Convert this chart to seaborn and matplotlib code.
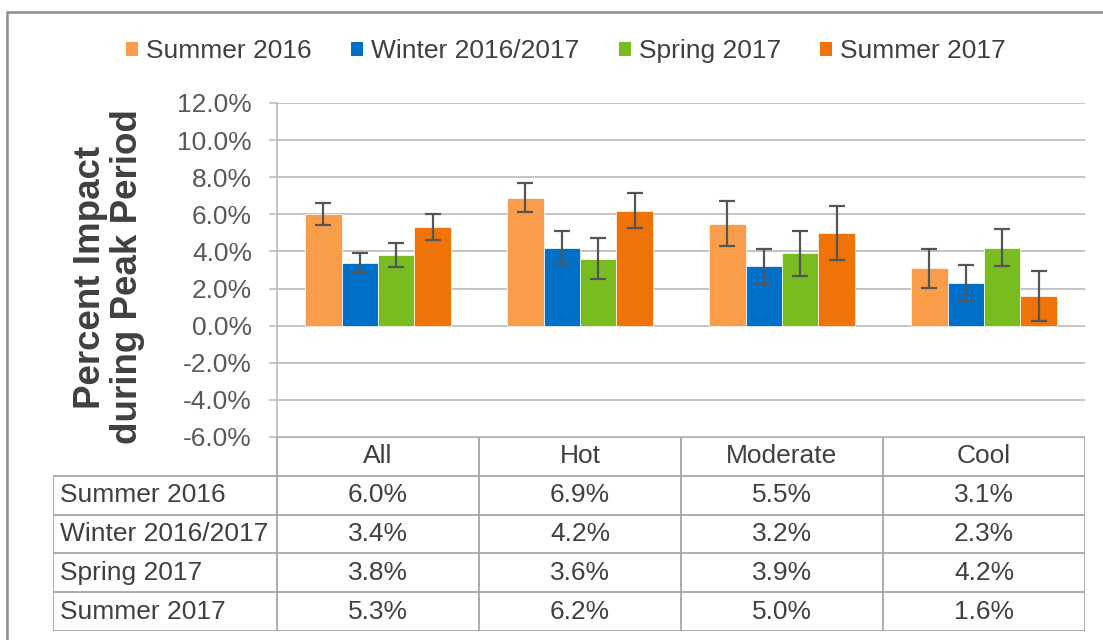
import numpy as np
import pandas as pd
import matplotlib
matplotlib.use("Agg")
import matplotlib.pyplot as plt
import matplotlib.ticker as mticker
from matplotlib.patches import Patch, Rectangle
import seaborn as sns

# ─── data ─────────────────────────────────────────────────────────────────────
CATEGORIES = ["All", "Hot", "Moderate", "Cool"]
SEASONS = ["Summer 2016", "Winter 2016/2017", "Spring 2017", "Summer 2017"]

summer_2016 = [6.0, 6.9, 5.5, 3.1]
winter_2016_17 = [3.4, 4.2, 3.2, 2.3]
spring_2017 = [3.8, 3.6, 3.9, 4.2]
summer_2017 = [5.3, 6.2, 5.0, 1.6]

# error bar half-widths
err_summer_2016 = [0.6, 0.8, 1.2, 1.05]
err_winter_2016_17 = [0.5, 0.9, 0.95, 0.95]
err_spring_2017 = [0.65, 1.1, 1.2, 1.0]
err_summer_2017 = [0.7, 0.95, 1.45, 1.35]

Y_TICKS = [-6, -4, -2, 0, 2, 4, 6, 8, 10, 12]

COLORS = ["#F99D4B", "#0070C8", "#78BC20", "#EF7306"]
TEXT = "#404040"
GRID = "#BFBFBF"

values = [summer_2016, winter_2016_17, spring_2017, summer_2017]
errors = [err_summer_2016, err_winter_2016_17, err_spring_2017, err_summer_2017]

df = pd.DataFrame({
    "category": CATEGORIES * len(SEASONS),
    "season": np.repeat(SEASONS, len(CATEGORIES)),
    "value": np.concatenate(values),
})

# ─── figure ───────────────────────────────────────────────────────────────────
sns.set_theme(style="white")
plt.rcParams["font.family"] = ["Liberation Sans", "DejaVu Sans"]

W, H = 1103, 640
fig = plt.figure(figsize=(W / 100, H / 100), dpi=100)

def px_box(x0, y0, x1, y1):
    return [x0 / W, 1 - y1 / H, (x1 - x0) / W, (y1 - y0) / H]

ax = fig.add_axes(px_box(277, 103, 1085, 437))
sns.barplot(data=df, x="category", y="value", hue="season",
            order=CATEGORIES, hue_order=SEASONS, palette=COLORS,
            saturation=1, width=0.72, gap=0, errorbar=None, legend=False,
            edgecolor="white", linewidth=0.5, ax=ax, zorder=3)

for cont, err in zip(ax.containers, errors):
    xs = [b.get_x() + b.get_width() / 2 for b in cont.patches]
    ys = [b.get_height() for b in cont.patches]
    ax.errorbar(xs, ys, yerr=err, fmt="none", ecolor="#555555",
                elinewidth=1.6, capsize=6, capthick=1.6, zorder=4)

ax.set_ylim(Y_TICKS[0], Y_TICKS[-1])
ax.set_xlim(-0.5, len(CATEGORIES) - 0.5)
ax.set_yticks(Y_TICKS)
ax.yaxis.set_major_formatter(mticker.FuncFormatter(lambda v, _: f"{v:.1f}%"))
ax.tick_params(axis="y", labelsize=19, labelcolor="#595959", length=6,
               width=1.2, color=GRID, pad=12, left=True)
ax.tick_params(axis="x", bottom=False, labelbottom=False)
ax.set_xlabel("")
ax.set_ylabel("")
ax.grid(axis="y", color=GRID, linewidth=1.3, zorder=0)
ax.set_axisbelow(True)
for side in ["top", "right", "bottom"]:
    ax.spines[side].set_visible(False)
ax.spines["left"].set_color(GRID)
ax.spines["left"].set_linewidth(1.3)

fig.text(109 / W, 1 - 277 / H, "Percent Impact\nduring Peak Period",
         rotation=90, ha="center", va="center", fontsize=26.5,
         fontweight="bold", color=TEXT, linespacing=1.05)

# ─── data table below the plot ───────────────────────────────────────────────
tax = fig.add_axes(px_box(53, 437, 1085, 631))
lab_w = (277 - 53) / 202
x_left = -0.5 - lab_w
n_rows = len(SEASONS) + 1
tax.set_xlim(x_left, len(CATEGORIES) - 0.5)
tax.set_ylim(n_rows, 0)
tax.axis("off")

line_kw = dict(color="#A6A6A6", linewidth=1.3)
tax.hlines(0, -0.5, len(CATEGORIES) - 0.5, **line_kw)
tax.hlines(range(1, n_rows + 1), x_left, len(CATEGORIES) - 0.5, **line_kw)
tax.vlines([i - 0.5 for i in range(len(CATEGORIES) + 1)], 0, n_rows, **line_kw)
tax.vlines(x_left, 1, n_rows, **line_kw)

for j, cat in enumerate(CATEGORIES):
    tax.text(j, 0.5, cat, ha="center", va="center", fontsize=19, color=TEXT)
for i, (season, vals) in enumerate(zip(SEASONS, values)):
    tax.text(x_left + 0.035, i + 1.5, season, ha="left", va="center",
             fontsize=19, color=TEXT)
    for j, v in enumerate(vals):
        tax.text(j, i + 1.5, f"{v:.1f}%", ha="center", va="center",
                 fontsize=19, color=TEXT)

# ─── legend & frame ──────────────────────────────────────────────────────────
handles = [Patch(facecolor=c, edgecolor="none", label=s) for c, s in zip(COLORS, SEASONS)]
fig.legend(handles=handles, loc="center", bbox_to_anchor=(566 / W, 1 - 51 / H),
           ncol=4, frameon=False, fontsize=19, labelcolor=TEXT,
           handlelength=0.45, handleheight=0.45, handletextpad=0.3,
           columnspacing=1.5)

fig.add_artist(Rectangle((7 / W, -0.05), 1.0, 1 - 12 / H + 0.05,
                         transform=fig.transFigure, fill=False,
                         edgecolor="#8C8C8C", linewidth=1.8))

fig.savefig("out.png", dpi=100)
